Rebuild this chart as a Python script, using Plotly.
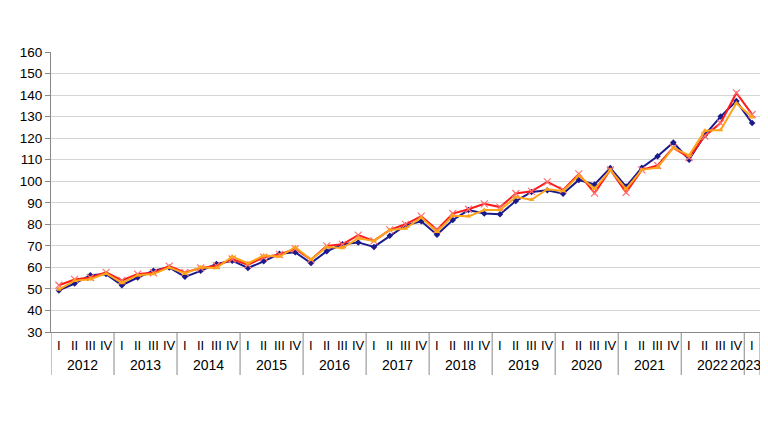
import plotly.graph_objects as go

years = ["2012"] * 4 + ["2013"] * 4 + ["2014"] * 4 + ["2015"] * 4 + ["2016"] * 4 + \
        ["2017"] * 4 + ["2018"] * 4 + ["2019"] * 4 + ["2020"] * 4 + ["2021"] * 4 + \
        ["2022"] * 4 + ["2023"]
quarters = ["I", "II", "III", "IV"] * 11 + ["I"]

blue = [49.3, 52.5, 56.4, 56.9, 51.7, 55.3, 58.4, 60.0, 55.6, 58.4, 61.6, 63.1,
        59.7, 62.8, 66.3, 67.0, 62.0, 67.5, 70.7, 71.6, 69.5, 74.7, 79.5, 81.4,
        75.2, 82.0, 86.6, 85.0, 84.7, 90.8, 95.0, 95.8, 94.2, 100.6, 98.5, 106.2,
        97.5, 106.3, 111.6, 118.0, 110.0, 121.5, 130.0, 137.2, 127.0]
red = [51.7, 54.4, 55.3, 57.7, 54.0, 56.9, 57.5, 60.6, 57.7, 59.7, 60.8, 63.9,
       61.2, 64.7, 66.0, 68.6, 63.6, 70.0, 70.7, 75.0, 72.3, 77.4, 80.0, 83.8,
       77.5, 85.0, 87.0, 89.5, 88.0, 94.3, 95.3, 99.7, 96.0, 103.4, 94.5, 105.2,
       94.8, 105.3, 107.3, 115.6, 111.0, 121.0, 127.0, 141.0, 131.0]
orange = [49.7, 53.8, 54.5, 57.2, 52.8, 56.4, 56.9, 60.0, 57.2, 60.0, 59.7, 65.0,
          61.9, 65.5, 65.0, 69.4, 63.6, 69.5, 69.0, 73.5, 72.3, 77.4, 78.0, 83.2,
          76.5, 84.0, 83.7, 86.6, 86.6, 92.7, 91.4, 96.3, 95.5, 102.6, 96.5, 105.2,
          96.4, 105.3, 106.3, 115.6, 112.0, 123.4, 123.8, 136.2, 129.7]

idx = list(range(len(quarters)))

fig = go.Figure()
fig.add_trace(go.Scatter(x=idx, y=blue, mode="lines+markers",
                         line=dict(color="#1a1a8c", width=2),
                         marker=dict(symbol="diamond", size=5, color="#1a1a8c")))
fig.add_trace(go.Scatter(x=idx, y=red, mode="lines+markers",
                         line=dict(color="#ff1a1a", width=2),
                         marker=dict(symbol="x-thin", size=7,
                                     line=dict(color="#ff7070", width=1.2))))
fig.add_trace(go.Scatter(x=idx, y=orange, mode="lines+markers",
                         line=dict(color="#ffa31a", width=2),
                         marker=dict(symbol="triangle-up", size=5, color="#ffa31a")))

# plot height in px: 424 - 44 - 100 = 280
ph = 280.0
annotations = []
shapes = []
for i, q in enumerate(quarters):
    annotations.append(dict(x=i, y=-13 / ph, xref="x", yref="paper", text=q,
                            showarrow=False, xanchor="center", yanchor="middle",
                            font=dict(size=13)))
groups = []
for i, yv in enumerate(years):
    if not groups or groups[-1][0] != yv:
        groups.append([yv, i, i])
    else:
        groups[-1][2] = i
for k, (yv, s, e) in enumerate(groups):
    last = k == len(groups) - 1
    annotations.append(dict(x=(e + 0.5) if last else (s + e) / 2, y=-33 / ph,
                            xref="x", yref="paper", text=yv,
                            showarrow=False, xanchor="right" if last else "center",
                            xshift=3 if last else 0, yanchor="middle",
                            font=dict(size=14)))
    shapes.append(dict(type="line", xref="x", yref="paper", x0=s - 0.5, x1=s - 0.5,
                       y0=0, y1=-43 / ph, line=dict(color="#888888", width=1)))
shapes.append(dict(type="line", xref="x", yref="paper", x0=groups[-1][2] + 0.5,
                   x1=groups[-1][2] + 0.5, y0=0, y1=-43 / ph,
                   line=dict(color="#888888", width=1)))

fig.update_layout(
    width=760, height=424,
    margin=dict(l=43, r=8, t=44, b=100),
    paper_bgcolor="white", plot_bgcolor="white",
    showlegend=False,
    font=dict(family="Liberation Sans, Arial, sans-serif", size=13, color="#000000"),
    annotations=annotations,
    shapes=shapes,
    xaxis=dict(
        range=[-0.5, len(quarters) - 0.5],
        automargin=False,
        showline=True, linecolor="#888888", linewidth=1,
        showgrid=False, zeroline=False,
        showticklabels=False, ticks="",
    ),
    yaxis=dict(
        range=[30, 160], dtick=10, tick0=30,
        automargin=False,
        showgrid=True, gridcolor="#d4d4d4", gridwidth=1,
        showline=True, linecolor="#888888", linewidth=1,
        ticks="outside", ticklen=5, tickcolor="#888888",
        tickfont=dict(size=13.5),
        zeroline=False,
    ),
)

fig.write_html("out.html")
